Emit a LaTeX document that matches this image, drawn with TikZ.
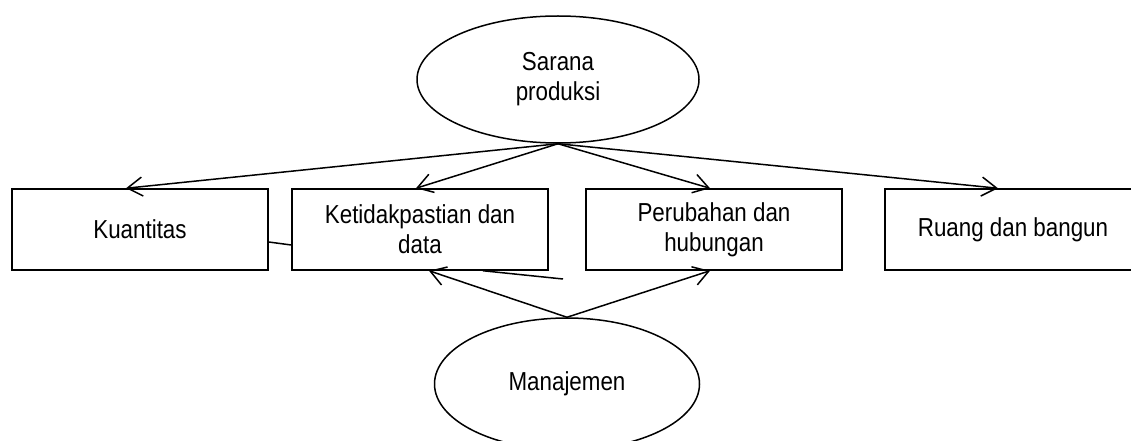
\documentclass[tikz,border=0pt]{standalone}
\usepackage{fontspec}
\setmainfont[FakeStretch=0.86]{Liberation Sans}
\usetikzlibrary{shapes.geometric,arrows.meta}
\begin{document}
\begin{tikzpicture}[x=1pt,y=-1pt,
  txt/.style={font=\fontsize{26}{30}\selectfont},
  box/.style={txt,draw,line width=1.5pt,minimum width=256pt,minimum height=81pt,inner sep=0pt,align=center},
  oval/.style={txt,draw,ellipse,line width=1.5pt,inner sep=0pt,align=center},
  arr/.style={line width=1.5pt,-{Straight Barb[length=15pt,width=19pt,line width=1.5pt]}},
  ln/.style={line width=1.5pt}]
\useasboundingbox (0,0) rectangle (1131,441);
\fill[white] (0,0) rectangle (1131,441);

\node[oval,minimum width=282pt,minimum height=127pt] (sar) at (558,79.5) {Sarana\\produksi};
\node[oval,minimum width=265pt,minimum height=132pt] (man) at (567,384) {Manajemen};

\node[box] (kua) at (140,229.5) {Kuantitas};
\node[box] (ket) at (420,229.5) {Ketidakpastian dan\\data};
\node[box] (per) at (714,229.5) {Perubahan dan\\hubungan};
\node[box] (rua) at (1013,229.5) {Ruang dan bangun};

\draw[arr] (sar.south) -- ([xshift=-14pt]kua.north);
\draw[arr] (sar.south) -- ([xshift=-4pt]ket.north);
\draw[arr] (sar.south) -- ([xshift=-4pt]per.north);
\draw[arr] (sar.south) -- ([xshift=-15pt]rua.north);

\draw[arr] (man.north) -- ([xshift=9pt]ket.south);
\draw[arr] (man.north) -- ([xshift=-4pt]per.south);

\draw[ln] ([yshift=-12.5pt]kua.east) -- ([yshift=-15.5pt]ket.west);
\coordinate (loose) at (563,279);
\draw[ln] (loose) -- ([xshift=63pt]ket.south);
\end{tikzpicture}
\end{document}
